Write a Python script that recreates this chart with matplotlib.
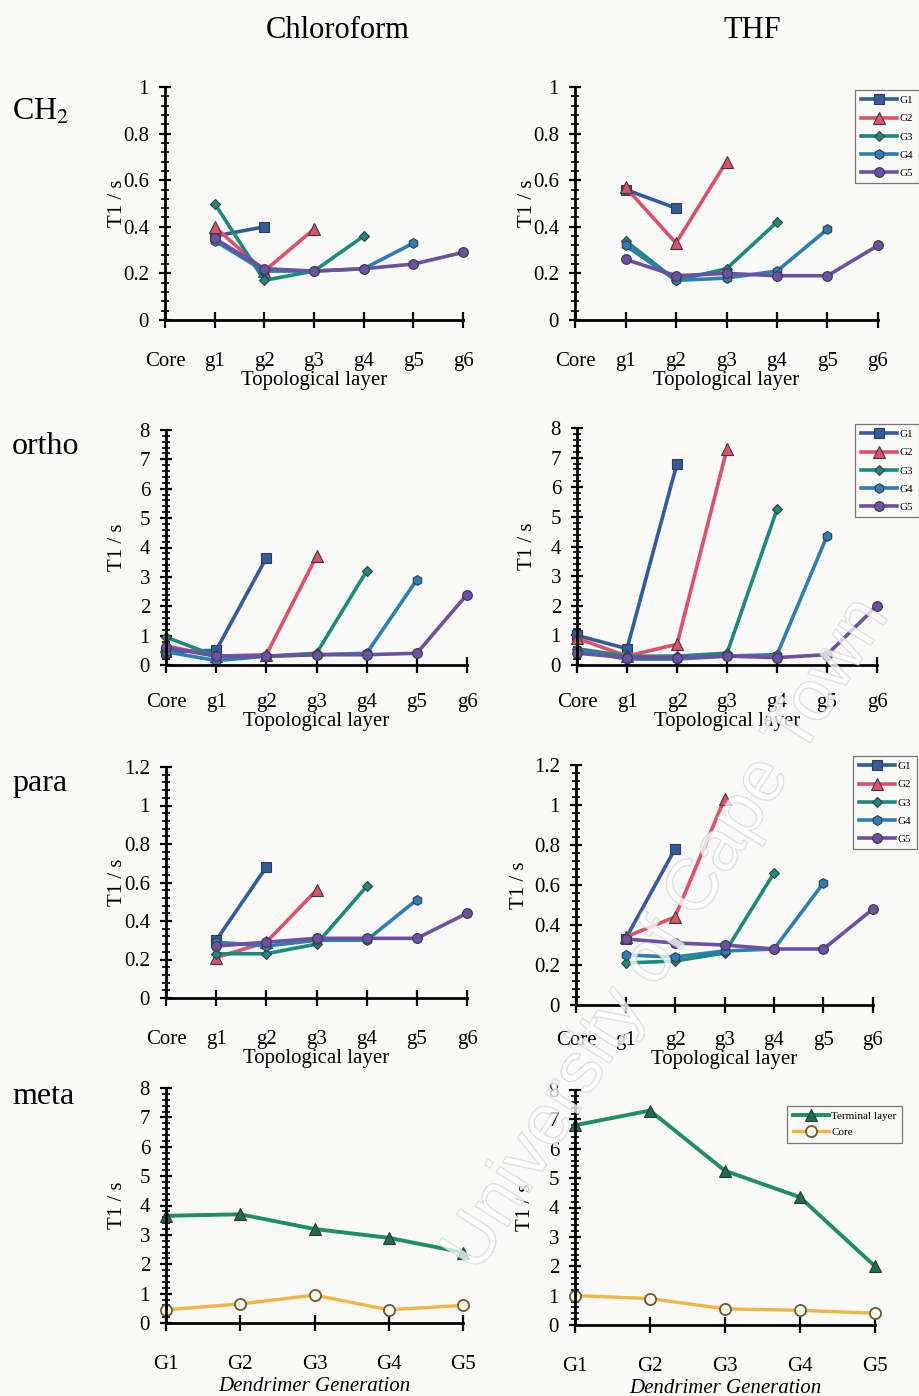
import numpy as np
import matplotlib
matplotlib.use("Agg")
import matplotlib.pyplot as plt
from matplotlib.ticker import MultipleLocator, FuncFormatter
import matplotlib.patheffects as pe

plt.rcParams["font.family"] = ["Liberation Serif", "DejaVu Serif"]
plt.rcParams["mathtext.fontset"] = "stix"

W, H = 919, 1396
nan = np.nan

# ---------------------------------------------------------------- data
layers = ["Core", "g1", "g2", "g3", "g4", "g5", "g6"]
generations = ["G1", "G2", "G3", "G4", "G5"]
series_names = ["G1", "G2", "G3", "G4", "G5"]

# T1 (s) of the CH2 protons per topological layer
ch2_chloroform_g1 = [nan, 0.36, 0.40]
ch2_chloroform_g2 = [nan, 0.40, 0.21, 0.39]
ch2_chloroform_g3 = [nan, 0.50, 0.17, 0.21, 0.36]
ch2_chloroform_g4 = [nan, 0.34, 0.21, 0.21, 0.22, 0.33]
ch2_chloroform_g5 = [nan, 0.35, 0.22, 0.21, 0.22, 0.24, 0.29]

ch2_thf_g1 = [nan, 0.56, 0.48]
ch2_thf_g2 = [nan, 0.57, 0.33, 0.68]
ch2_thf_g3 = [nan, 0.34, 0.17, 0.22, 0.42]
ch2_thf_g4 = [nan, 0.32, 0.17, 0.18, 0.21, 0.39]
ch2_thf_g5 = [nan, 0.26, 0.19, 0.20, 0.19, 0.19, 0.32]

# T1 (s) of the ortho protons
ortho_chloroform_g1 = [0.45, 0.50, 3.65]
ortho_chloroform_g2 = [0.65, 0.30, 0.35, 3.70]
ortho_chloroform_g3 = [0.95, 0.30, 0.30, 0.40, 3.20]
ortho_chloroform_g4 = [0.45, 0.15, 0.30, 0.35, 0.40, 2.90]
ortho_chloroform_g5 = [0.60, 0.30, 0.30, 0.35, 0.35, 0.40, 2.40]

ortho_thf_g1 = [1.00, 0.55, 6.80]
ortho_thf_g2 = [0.90, 0.30, 0.70, 7.30]
ortho_thf_g3 = [0.55, 0.30, 0.30, 0.40, 5.25]
ortho_thf_g4 = [0.50, 0.20, 0.20, 0.30, 0.35, 4.35]
ortho_thf_g5 = [0.40, 0.25, 0.25, 0.30, 0.25, 0.35, 2.00]

# T1 (s) of the para protons
para_chloroform_g1 = [nan, 0.30, 0.68]
para_chloroform_g2 = [nan, 0.21, 0.29, 0.56]
para_chloroform_g3 = [nan, 0.23, 0.23, 0.28, 0.58]
para_chloroform_g4 = [nan, 0.29, 0.27, 0.30, 0.30, 0.51]
para_chloroform_g5 = [nan, 0.27, 0.29, 0.31, 0.31, 0.31, 0.44]

para_thf_g1 = [nan, 0.33, 0.78]
para_thf_g2 = [nan, 0.34, 0.44, 1.03]
para_thf_g3 = [nan, 0.21, 0.22, 0.26, 0.66]
para_thf_g4 = [nan, 0.25, 0.24, 0.27, 0.28, 0.61]
para_thf_g5 = [nan, 0.33, 0.31, 0.30, 0.28, 0.28, 0.48]

# T1 (s) of the meta protons per dendrimer generation
meta_chloroform_terminal = [3.65, 3.70, 3.20, 2.90, 2.40]
meta_chloroform_core = [0.45, 0.65, 0.95, 0.45, 0.60]
meta_thf_terminal = [6.80, 7.30, 5.25, 4.35, 2.00]
meta_thf_core = [1.00, 0.90, 0.55, 0.50, 0.40]

# ---------------------------------------------------------------- style
series_colors = ["#2f5d9f", "#e0506a", "#1b8c7a", "#2a7fb4", "#6b50a3"]
series_markers = ["s", "^", "D", "h", "o"]
series_msize = [7, 8, 5, 7, 7]
terminal_color = "#1e8f62"
core_color = "#f2b543"

fig = plt.figure(figsize=(W / 100, H / 100), dpi=100)
fig.patch.set_facecolor("#f9f9f7")


def px_rect(x0, x1, y0, y1):
    return [x0 / W, 1 - y1 / H, (x1 - x0) / W, (y1 - y0) / H]


def fmt(v, _):
    return "%g" % round(v, 3)


def style_axes(ax, ymax, major, minor, xpad):
    ax.set_facecolor("none")
    ax.set_ylim(0, ymax)
    for s in ("top", "right"):
        ax.spines[s].set_visible(False)
    for s in ("left", "bottom"):
        ax.spines[s].set_linewidth(2.0)
    ax.yaxis.set_major_locator(MultipleLocator(major))
    ax.yaxis.set_minor_locator(MultipleLocator(minor))
    ax.yaxis.set_major_formatter(FuncFormatter(fmt))
    ax.tick_params(axis="y", which="major", direction="inout", length=9,
                   width=1.6, labelsize=15, pad=7)
    ax.tick_params(axis="y", which="minor", direction="inout", length=6,
                   width=1.2)
    ax.tick_params(axis="x", which="major", direction="inout", length=12,
                   width=1.6, labelsize=15, pad=xpad)


def layer_panel(rect, series, ymax, major, minor, xpad, xlabel_pad):
    ax = fig.add_axes(px_rect(*rect))
    for name, vals, c, m, ms in zip(series_names, series, series_colors,
                                    series_markers, series_msize):
        y = np.array(vals, dtype=float)
        x = np.arange(len(y))
        ok = ~np.isnan(y)
        ax.plot(x[ok], y[ok], color=c, lw=2.6, marker=m, ms=ms, mfc=c,
                mec="#3a3a4a", mew=0.8, label=name, clip_on=False)
    ax.set_xlim(0, len(layers) - 1)
    ax.set_xticks(range(len(layers)))
    ax.set_xticklabels(layers)
    style_axes(ax, ymax, major, minor, xpad)
    ax.set_xlabel("Topological layer", fontsize=15, labelpad=xlabel_pad)
    return ax


def boxed_legend(ax, x, y, spacing):
    leg = ax.legend(loc="upper left", bbox_to_anchor=(x / W, 1 - y / H),
                    bbox_transform=fig.transFigure, borderaxespad=0,
                    fontsize=8, handlelength=3.3, handletextpad=0.2,
                    labelspacing=spacing, borderpad=0.5, frameon=True,
                    fancybox=False, markerscale=1.0)
    leg.get_frame().set_edgecolor("#555555")
    leg.get_frame().set_linewidth(0.9)
    leg.get_frame().set_facecolor("none")
    return leg


def generation_panel(rect, terminal, core, xpad):
    ax = fig.add_axes(px_rect(*rect))
    x = np.arange(len(generations))
    ax.plot(x, terminal, color=terminal_color, lw=2.8, marker="^", ms=9,
            mfc="#1d6e4c", mec="#2a3a30", mew=0.8, label="Terminal layer",
            clip_on=False)
    ax.plot(x, core, color=core_color, lw=2.4, marker="o", ms=8,
            mfc="#fbf7ea", mec="#6b5a32", mew=1.3, label="Core",
            clip_on=False)
    ax.set_xlim(0, len(generations) - 1)
    ax.set_xticks(x)
    ax.set_xticklabels(generations)
    style_axes(ax, 8, 1, 0.2, xpad)
    ax.set_xlabel("Dendrimer Generation", fontsize=15, style="italic",
                  labelpad=2)
    return ax


# ---------------------------------------------------------------- panels
a1 = layer_panel((165, 463, 87, 320),
                 [ch2_chloroform_g1, ch2_chloroform_g2, ch2_chloroform_g3,
                  ch2_chloroform_g4, ch2_chloroform_g5],
                 1.0, 0.2, 0.04, 17, 0)
a2 = layer_panel((575, 878, 87, 320),
                 [ch2_thf_g1, ch2_thf_g2, ch2_thf_g3, ch2_thf_g4, ch2_thf_g5],
                 1.0, 0.2, 0.04, 17, 0)
boxed_legend(a2, 855, 90, 0.75)

a3 = layer_panel((166, 467, 430, 665),
                 [ortho_chloroform_g1, ortho_chloroform_g2,
                  ortho_chloroform_g3, ortho_chloroform_g4,
                  ortho_chloroform_g5],
                 8, 1, 0.2, 14, 0)
a4 = layer_panel((577, 877, 428, 665),
                 [ortho_thf_g1, ortho_thf_g2, ortho_thf_g3, ortho_thf_g4,
                  ortho_thf_g5],
                 8, 1, 0.2, 14, 0)
boxed_legend(a4, 855, 424, 0.75)

a5 = layer_panel((166, 467, 767, 998),
                 [para_chloroform_g1, para_chloroform_g2, para_chloroform_g3,
                  para_chloroform_g4, para_chloroform_g5],
                 1.2, 0.2, 0.04, 17, 0)
a6 = layer_panel((576, 873, 765, 1005),
                 [para_thf_g1, para_thf_g2, para_thf_g3, para_thf_g4,
                  para_thf_g5],
                 1.2, 0.2, 0.04, 13, 0)
boxed_legend(a6, 853, 756, 0.75)

a7 = generation_panel((166, 463, 1088, 1323), meta_chloroform_terminal,
                      meta_chloroform_core, 17)
a8 = generation_panel((575, 875, 1090, 1325), meta_thf_terminal,
                      meta_thf_core, 17)
boxed_legend(a8, 787, 1106, 0.55)

# ---------------------------------------------------------------- labels
for ax, xl in ((a1, 117), (a3, 117), (a5, 117), (a7, 117),
               (a2, 527), (a4, 527), (a6, 520), (a8, 525)):
    pos = ax.get_position()
    fig.text(xl / W, pos.y0 + pos.height / 2, "T1 / s", rotation=90,
             ha="center", va="center", fontsize=15)

fig.text(338 / W, 1 - 30 / H, "Chloroform", ha="center", va="center",
         fontsize=22)
fig.text(752 / W, 1 - 30 / H, "THF", ha="center", va="center", fontsize=22)

fig.text(12 / W, 1 - 112 / H, r"CH$_{\mathrm{2}}$", ha="left", va="center",
         fontsize=23)
fig.text(12 / W, 1 - 447 / H, "ortho", ha="left", va="center", fontsize=23)
fig.text(12 / W, 1 - 783 / H, "para", ha="left", va="center", fontsize=23)
fig.text(12 / W, 1 - 1097 / H, "meta", ha="left", va="center", fontsize=23)

# repository watermark across the lower right
fig.text(668 / W, 1 - 935 / H, "University of Cape Town", rotation=58,
         ha="center", va="center", fontsize=52, family="Liberation Sans",
         color=(1, 1, 1, 0.5), zorder=20,
         path_effects=[pe.Stroke(linewidth=1.1,
                                 foreground=(0.8, 0.8, 0.8, 0.7)),
                       pe.Normal()])

fig.savefig("out.png", dpi=100, facecolor=fig.get_facecolor())
